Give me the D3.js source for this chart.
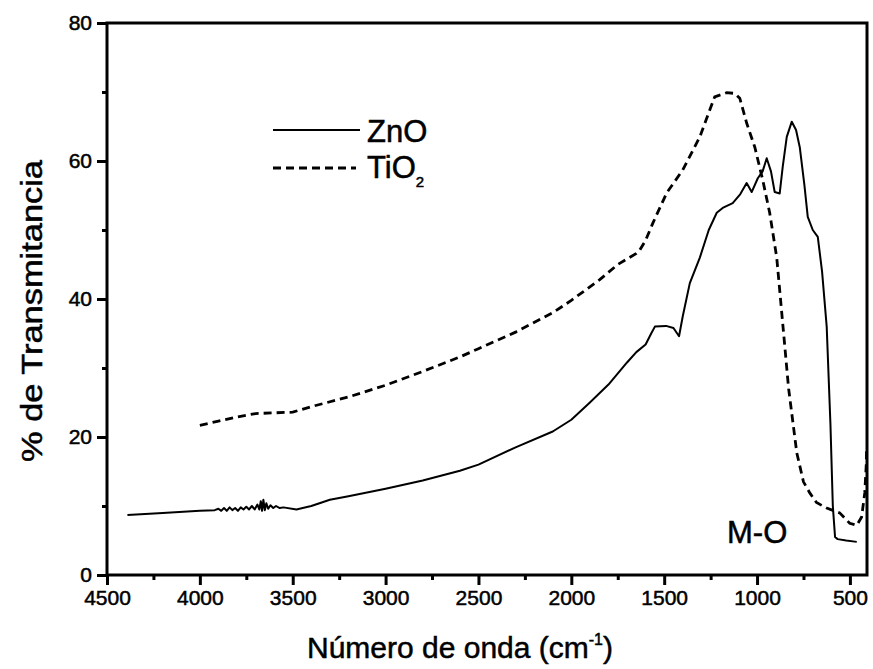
<!DOCTYPE html>
<html lang="es">
<head>
<meta charset="UTF-8">
<title>FTIR ZnO / TiO2</title>
<script src="https://d3js.org/d3.v7.min.js"></script>
<style>
  body { margin: 0; background: #fff; }
  text { font-family: "Liberation Sans", Arial, sans-serif; fill: #000; stroke: #000; stroke-width: 0.5px; }
</style>
</head>
<body>
<div id="chart"></div>
<script>
// data: [wavenumber, % transmittance]
const znoSeries = [
  [4390, 8.7], [4200, 9.0], [4000, 9.3], [3920, 9.4], [3900, 9.6], [3885, 9.3], [3870, 9.7],
  [3855, 9.3], [3840, 9.8], [3825, 9.4], [3810, 9.7], [3795, 9.3], [3780, 9.8], [3765, 9.5],
  [3750, 9.9], [3735, 9.5], [3720, 10.0], [3705, 9.5], [3690, 10.2], [3680, 9.5], [3672, 10.7],
  [3665, 9.3], [3658, 10.9], [3650, 9.4], [3642, 10.4], [3632, 9.6], [3620, 10.1], [3605, 9.7],
  [3590, 10.0], [3570, 9.7], [3550, 9.8], [3480, 9.5], [3400, 10.0], [3300, 10.9],
  [3200, 11.4], [3000, 12.5], [2800, 13.7], [2600, 15.1], [2500, 16.0], [2300, 18.5],
  [2100, 20.8], [2000, 22.5], [1900, 25.0], [1800, 27.6], [1700, 30.8], [1650, 32.3],
  [1600, 33.4], [1570, 35.0], [1550, 36.0], [1490, 36.1], [1450, 35.8], [1420, 34.6],
  [1400, 37.5], [1362, 42.3], [1308, 46.0], [1260, 50.0], [1217, 52.5], [1185, 53.2],
  [1131, 53.9], [1090, 55.2], [1056, 56.8], [1029, 55.5], [996, 57.5], [970, 58.5],
  [948, 60.4], [925, 58.5], [905, 55.5], [878, 55.3], [862, 59.1], [840, 63.5], [813, 65.7],
  [790, 64.5], [770, 62.0], [745, 56.5], [727, 51.9], [700, 50.0], [673, 49.0], [650, 44.0],
  [625, 36.0], [605, 22.0], [592, 10.0], [580, 5.5], [566, 5.2], [520, 5.0], [463, 4.8]
];
const tioSeries = [
  [4000, 21.7], [3900, 22.3], [3800, 22.9], [3700, 23.4], [3600, 23.5], [3500, 23.6],
  [3400, 24.4], [3200, 25.8], [3000, 27.5], [2800, 29.5], [2600, 31.6], [2500, 32.8],
  [2300, 35.2], [2100, 38.0], [2000, 39.8], [1847, 42.8], [1750, 45.0], [1700, 45.8],
  [1650, 46.6], [1631, 47.1], [1600, 48.5], [1561, 51.0], [1486, 55.4], [1400, 58.7],
  [1308, 63.5], [1260, 67.0], [1228, 69.3], [1163, 69.9], [1120, 69.8], [1093, 69.1],
  [1056, 65.5], [1012, 62.0], [969, 57.2], [932, 52.5], [894, 46.0], [867, 38.0],
  [830, 27.0], [786, 17.7], [750, 13.5], [716, 11.9], [680, 10.5], [625, 9.7], [555, 9.0],
  [501, 7.5], [463, 7.2], [437, 8.4], [420, 11.9], [412, 16.0], [410, 18.5]
];
const xTicks = [4500, 4000, 3500, 3000, 2500, 2000, 1500, 1000, 500];
const yTicks = [0, 20, 40, 60, 80];
const xMinor = [4250, 3750, 3250, 2750, 2250, 1750, 1250, 750];
const yMinor = [10, 30, 50, 70];
const legendNames = ["ZnO", "TiO"];

const W = 873, H = 669;
const m = { left: 107, right: 6, top: 23, bottom: 94 };

const x = d3.scaleLinear().domain([4500, 408]).range([m.left, W - m.right]);
const y = d3.scaleLinear().domain([0, 80]).range([H - m.bottom, m.top]);

const svg = d3.select("#chart").append("svg")
  .attr("width", W).attr("height", H);

// frame
svg.append("rect")
  .attr("x", m.left).attr("y", m.top)
  .attr("width", x.range()[1] - m.left).attr("height", y(0) - m.top)
  .attr("fill", "none").attr("stroke", "#000").attr("stroke-width", 3);

// axes
const xAxis = svg.append("g")
  .attr("transform", `translate(0,${y(0)})`)
  .call(d3.axisBottom(x).tickValues(xTicks).tickSize(10).tickPadding(5).tickFormat(d3.format("d")));
const xAxisMinor = svg.append("g")
  .attr("transform", `translate(0,${y(0)})`)
  .call(d3.axisBottom(x).tickValues(xMinor).tickSize(5).tickFormat(""));
const yAxis = svg.append("g")
  .attr("transform", `translate(${m.left},0)`)
  .call(d3.axisLeft(y).tickValues(yTicks).tickSize(10).tickPadding(5));
const yAxisMinor = svg.append("g")
  .attr("transform", `translate(${m.left},0)`)
  .call(d3.axisLeft(y).tickValues(yMinor).tickSize(5).tickFormat(""));

[xAxis, xAxisMinor, yAxis, yAxisMinor].forEach(g => {
  g.select(".domain").remove();
  g.selectAll("line").attr("stroke", "#000").attr("stroke-width", 3);
  g.selectAll("text").attr("font-size", 21)
    .attr("font-family", "'Liberation Sans', Arial, sans-serif");
});

// curves
const line = d3.line().x(d => x(d[0])).y(d => y(d[1]));
svg.append("path").datum(znoSeries)
  .attr("d", line).attr("fill", "none").attr("stroke", "#000")
  .attr("stroke-width", 2).attr("stroke-linejoin", "round");
svg.append("path").datum(tioSeries)
  .attr("d", line).attr("fill", "none").attr("stroke", "#000")
  .attr("stroke-width", 2.8).attr("stroke-dasharray", "8,5");

// legend
svg.append("line").attr("x1", 273).attr("x2", 360).attr("y1", 130).attr("y2", 130)
  .attr("stroke", "#000").attr("stroke-width", 2);
svg.append("line").attr("x1", 273).attr("x2", 356).attr("y1", 168).attr("y2", 168)
  .attr("stroke", "#000").attr("stroke-width", 2.8).attr("stroke-dasharray", "8,5");
svg.append("text").attr("x", 367).attr("y", 142).attr("font-size", 31).text(legendNames[0]);
const tio = svg.append("text").attr("x", 367).attr("y", 178).attr("font-size", 31);
tio.append("tspan").text(legendNames[1]);
tio.append("tspan").attr("font-size", 15).attr("dy", 9).text("2");

// annotation
svg.append("text").attr("x", 727).attr("y", 543).attr("font-size", 31).text("M-O");

// axis titles
svg.append("text")
  .attr("transform", `translate(42,311) rotate(-90)`)
  .attr("text-anchor", "middle").attr("font-size", 30)
  .attr("textLength", 302).attr("lengthAdjust", "spacingAndGlyphs")
  .text("% de Transmitancia");
const xt = svg.append("text")
  .attr("x", 460).attr("y", 658).attr("text-anchor", "middle").attr("font-size", 30);
xt.append("tspan").text("Número de onda (cm");
xt.append("tspan").attr("font-size", 16).attr("dy", -13).text("-1");
xt.append("tspan").attr("dy", 13).text(")");
</script>
</body>
</html>
